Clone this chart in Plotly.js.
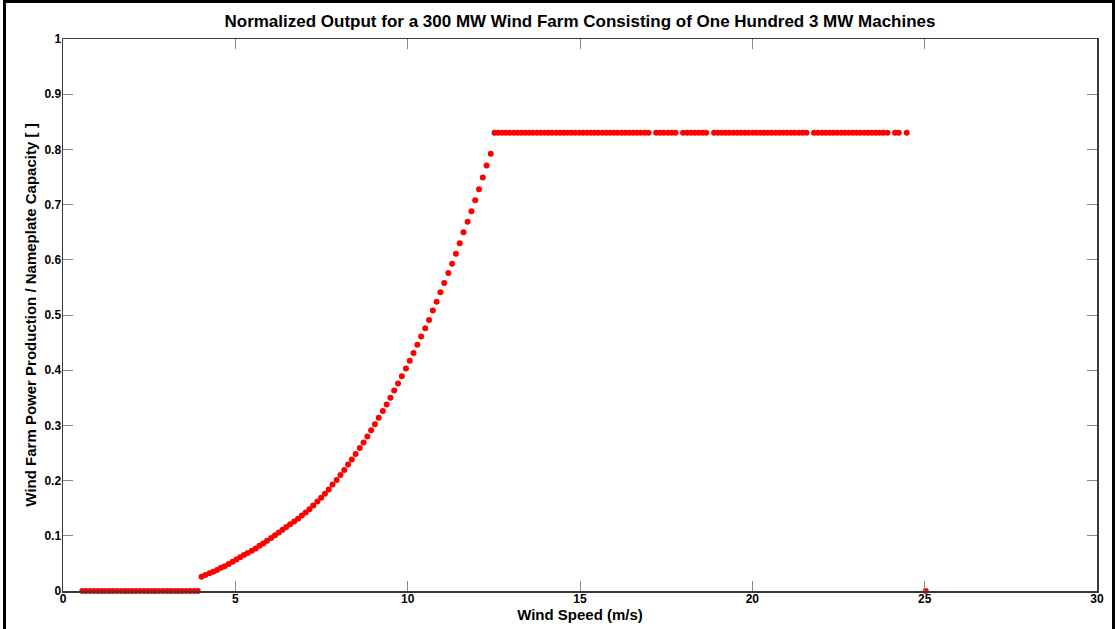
<!DOCTYPE html>
<html>
<head>
<meta charset="utf-8">
<script src="https://cdn.plot.ly/plotly-3.0.1.min.js"></script>
<style>
  html, body { margin: 0; padding: 0; background: #fff; overflow: hidden; }
  #wrap { position: relative; width: 1117px; height: 629px; }
  #chart { position: absolute; left: 0; top: 0; width: 1117px; height: 629px; }
  #frame { position: absolute; left: 3px; top: 0; width: 1106px; height: 700px;
           border-left: 3px solid #000; border-top: 3px solid #000; border-right: 3px solid #000;
           pointer-events: none; }
</style>
</head>
<body>
<div id="wrap">
  <div id="chart"></div>
  <div id="frame"></div>
</div>
<script>
// Wind speed (m/s) and normalized output
const zeroSpeed = [0.56, 0.67, 0.78, 0.89, 1.01, 1.12, 1.23, 1.34, 1.45, 1.56, 1.68, 1.79, 1.90, 2.01, 2.12,
  2.24, 2.35, 2.46, 2.57, 2.68, 2.79, 2.91, 3.02, 3.13, 3.24, 3.35, 3.46, 3.58, 3.69, 3.80, 3.91];
const zeroPower = [0, 0, 0, 0, 0, 0, 0, 0, 0, 0, 0, 0, 0, 0, 0,
  0, 0, 0, 0, 0, 0, 0, 0, 0, 0, 0, 0, 0, 0, 0, 0];

const rampSpeed = [4.02, 4.13, 4.25, 4.36, 4.47, 4.58, 4.69, 4.81, 4.92, 5.03, 5.14, 5.25, 5.36, 5.48, 5.59,
  5.70, 5.81, 5.92, 6.04, 6.15, 6.26, 6.37, 6.48, 6.59, 6.71, 6.82, 6.93, 7.04, 7.15, 7.26, 7.38, 7.49, 7.60,
  7.71, 7.82, 7.94, 8.05, 8.16, 8.27, 8.38, 8.49, 8.61, 8.72, 8.83, 8.94, 9.05, 9.16, 9.28, 9.39, 9.50, 9.61,
  9.72, 9.83, 9.95, 10.06, 10.17, 10.28, 10.39, 10.51, 10.62, 10.73, 10.84, 10.95, 11.06, 11.18, 11.29, 11.40,
  11.51, 11.62, 11.74, 11.85, 11.96, 12.07, 12.18, 12.29, 12.41];
const rampPower = [0.026, 0.029, 0.032, 0.035, 0.038, 0.042, 0.045, 0.049, 0.053, 0.057, 0.061, 0.065, 0.069,
  0.073, 0.077, 0.082, 0.086, 0.091, 0.096, 0.101, 0.106, 0.111, 0.116, 0.121, 0.126, 0.131, 0.137, 0.142,
  0.148, 0.155, 0.162, 0.169, 0.176, 0.184, 0.193, 0.201, 0.210, 0.219, 0.229, 0.238, 0.248, 0.259, 0.269,
  0.280, 0.291, 0.302, 0.314, 0.326, 0.338, 0.350, 0.363, 0.376, 0.389, 0.403, 0.417, 0.431, 0.446, 0.461,
  0.476, 0.491, 0.508, 0.524, 0.541, 0.558, 0.576, 0.593, 0.611, 0.630, 0.650, 0.669, 0.688, 0.708, 0.728,
  0.749, 0.771, 0.792];

const ratedSpeed = [12.52, 12.63, 12.74, 12.85, 12.96, 13.08, 13.19, 13.30, 13.41, 13.52, 13.63, 13.75, 13.86,
  13.97, 14.08, 14.19, 14.31, 14.42, 14.53, 14.64, 14.75, 14.86, 14.98, 15.09, 15.20, 15.31, 15.42, 15.53,
  15.65, 15.76, 15.87, 15.98, 16.09, 16.21, 16.32, 16.43, 16.54, 16.65, 16.76, 16.88, 16.99,
  17.21, 17.32, 17.43, 17.55, 17.66, 17.77,
  17.99, 18.11, 18.22, 18.33, 18.44, 18.55, 18.66,
  18.89, 19.00, 19.11, 19.22, 19.33, 19.45, 19.56, 19.67, 19.78, 19.89, 20.01, 20.12, 20.23, 20.34, 20.45,
  20.56, 20.68, 20.79, 20.90, 21.01, 21.12, 21.23, 21.35, 21.46, 21.57,
  21.79, 21.90, 22.02, 22.13, 22.24, 22.35, 22.46, 22.58, 22.69, 22.80, 22.91, 23.02, 23.13, 23.25, 23.36,
  23.47, 23.58, 23.69, 23.80, 23.92,
  24.14, 24.25,
  24.48];
const ratedPower = [0.83, 0.83, 0.83, 0.83, 0.83, 0.83, 0.83, 0.83, 0.83, 0.83, 0.83, 0.83, 0.83,
  0.83, 0.83, 0.83, 0.83, 0.83, 0.83, 0.83, 0.83, 0.83, 0.83, 0.83, 0.83, 0.83, 0.83, 0.83,
  0.83, 0.83, 0.83, 0.83, 0.83, 0.83, 0.83, 0.83, 0.83, 0.83, 0.83, 0.83, 0.83,
  0.83, 0.83, 0.83, 0.83, 0.83, 0.83,
  0.83, 0.83, 0.83, 0.83, 0.83, 0.83, 0.83,
  0.83, 0.83, 0.83, 0.83, 0.83, 0.83, 0.83, 0.83, 0.83, 0.83, 0.83, 0.83, 0.83, 0.83, 0.83,
  0.83, 0.83, 0.83, 0.83, 0.83, 0.83, 0.83, 0.83, 0.83, 0.83,
  0.83, 0.83, 0.83, 0.83, 0.83, 0.83, 0.83, 0.83, 0.83, 0.83, 0.83, 0.83, 0.83, 0.83, 0.83,
  0.83, 0.83, 0.83, 0.83, 0.83,
  0.83, 0.83,
  0.83];

const cutoutSpeed = [25.03];
const cutoutPower = [0];

const xTickVals = [0, 5, 10, 15, 20, 25, 30];
const xTickText = ['0', '5', '10', '15', '20', '25', '30'];
const yTickVals = [0, 0.1, 0.2, 0.3, 0.4, 0.5, 0.6, 0.7, 0.8, 0.9, 1];
const yTickText = ['0', '0.1', '0.2', '0.3', '0.4', '0.5', '0.6', '0.7', '0.8', '0.9', '1'];

const FONT = 'Liberation Sans, Arial, Helvetica, sans-serif';

const trace = {
  type: 'scatter',
  mode: 'markers',
  x: zeroSpeed.concat(rampSpeed, ratedSpeed, cutoutSpeed),
  y: zeroPower.concat(rampPower, ratedPower, cutoutPower),
  marker: { color: '#ff0000', size: 6, line: { width: 0 } },
  cliponaxis: false,
  showlegend: false,
  hoverinfo: 'x+y'
};

const axisCommon = {
  showgrid: false,
  zeroline: false,
  showline: true,
  linecolor: '#3a3a3a',
  linewidth: 1.5,
  mirror: 'ticks',
  ticks: 'inside',
  ticklen: 10,
  tickwidth: 1,
  tickcolor: '#8a8a8a',
  tickfont: { family: FONT, size: 12, color: '#000', weight: 'bold' },
  tickmode: 'array',
  fixedrange: true
};

const layout = {
  width: 1117,
  height: 629,
  margin: { l: 63, r: 20, t: 39, b: 38, pad: 0 },
  paper_bgcolor: '#ffffff',
  plot_bgcolor: '#ffffff',
  title: {
    text: 'Normalized Output for a 300 MW Wind Farm Consisting of One Hundred 3 MW Machines',
    font: { family: FONT, size: 17, color: '#000', weight: 'bold' },
    xref: 'paper', x: 0.5, xanchor: 'center',
    yref: 'container', y: 1 - 21 / 629, yanchor: 'middle'
  },
  xaxis: Object.assign({}, axisCommon, {
    range: [0, 30],
    tickvals: xTickVals,
    ticktext: xTickText,
    ticklabelstandoff: -4,
    title: { text: 'Wind Speed (m/s)', font: { family: FONT, size: 15, color: '#000', weight: 'bold' }, standoff: 2 }
  }),
  yaxis: Object.assign({}, axisCommon, {
    range: [0, 1],
    tickvals: yTickVals,
    ticktext: yTickText,
    ticklabelstandoff: -2,
    title: { text: 'Wind Farm Power Production / Nameplate Capacity [ ]', font: { family: FONT, size: 15, color: '#000', weight: 'bold' }, standoff: 4 }
  })
};

Plotly.newPlot('chart', [trace], layout, { displayModeBar: false, staticPlot: true });
</script>
</body>
</html>
